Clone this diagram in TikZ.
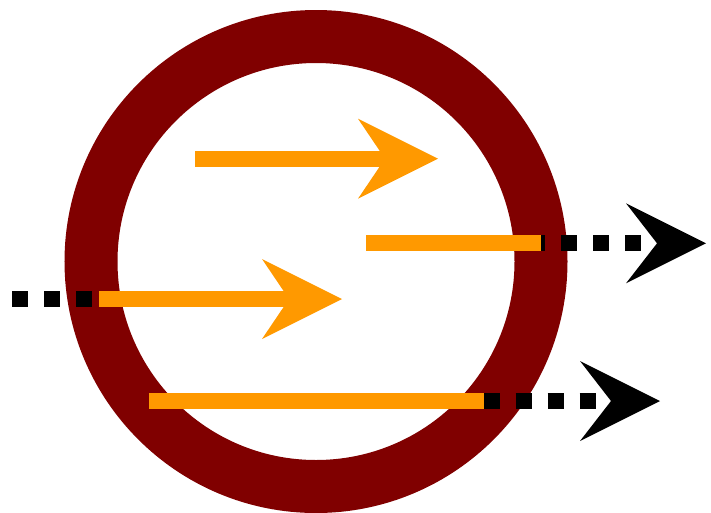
\documentclass[tikz,border=0pt]{standalone}
\usetikzlibrary{arrows.meta}
\definecolor{ringred}{HTML}{800000}
\definecolor{arroworange}{HTML}{FF9900}
\begin{document}
\begin{tikzpicture}[x=1pt,y=-1pt,
  ring/.style={draw=ringred, line width=53pt},
  orangeline/.style={draw=arroworange, line width=16pt},
  orangearrow/.style={orangeline, -{Stealth[length=80pt,width=80pt,inset=27pt,line width=0pt]}},
  blackdots/.style={draw=black, line width=16pt, dash pattern=on 16pt off 16pt},
  blackarrow/.style={blackdots, -{Stealth[length=80pt,width=80pt,inset=31pt,line width=0pt]}}]
\useasboundingbox (0,0) rectangle (711,512);
\clip (0,0) rectangle (711,512);
% ring
\coordinate (c) at (316,261.5);
\draw[ring] (c) circle[radius=225];
% arrow 1
\coordinate (a1s) at (195,158.7);
\coordinate (a1e) at (438,158.7);
\draw[orangearrow] (a1s) -- (a1e);
% arrow 2
\coordinate (a2s) at (366,243.3);
\coordinate (a2m) at (529,243.3);
\coordinate (a2o) at (541,243.3);
\coordinate (a2e) at (706,243.3);
\draw[blackarrow] (a2m) -- (a2e);
\draw[orangeline] (a2s) -- (a2o);
% arrow 3
\coordinate (a3s) at (12,299);
\coordinate (a3m) at (99,299);
\coordinate (a3e) at (342,299);
\draw[blackdots] (a3s) -- (a3m);
\draw[orangearrow] (a3m) -- (a3e);
% arrow 4
\coordinate (a4s) at (148.8,401);
\coordinate (a4m) at (483.5,401);
\coordinate (a4e) at (660,401);
\draw[blackarrow] (a4m) -- (a4e);
\draw[orangeline] (a4s) -- (a4m);
\end{tikzpicture}
\end{document}
